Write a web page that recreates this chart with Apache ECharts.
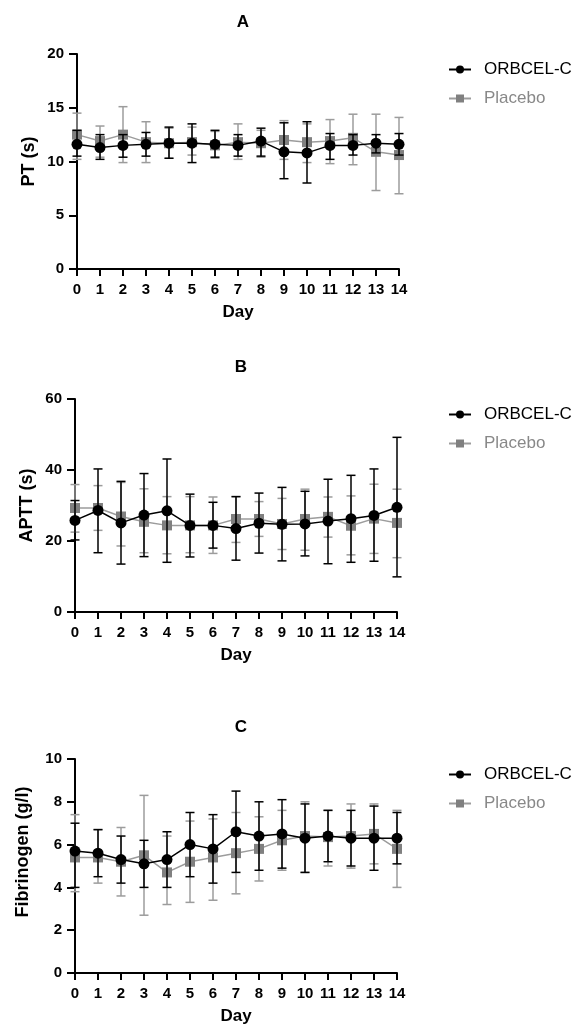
<!DOCTYPE html>
<html>
<head>
<meta charset="utf-8">
<script src="https://cdn.jsdelivr.net/npm/echarts@6/dist/echarts.min.js"></script>
<style>
  html, body { margin: 0; padding: 0; background: #fff; }
  #chart { width: 575px; height: 1032px; }
</style>
</head>
<body>
<div id="chart"></div>
<script>
// Study days
const days = [0, 1, 2, 3, 4, 5, 6, 7, 8, 9, 10, 11, 12, 13, 14];

// A: prothrombin time (s) — mean, lower and upper error limits
const ptOrb   = [11.6, 11.3, 11.5, 11.6, 11.7, 11.7, 11.6, 11.5, 11.9, 10.9, 10.8, 11.5, 11.5, 11.7, 11.6];
const ptOrbLo = [10.5, 10.2, 10.4, 10.5, 10.3, 9.9, 10.4, 10.5, 10.5, 8.4, 8.0, 10.2, 10.6, 10.8, 10.6];
const ptOrbHi = [12.9, 12.5, 12.5, 12.7, 13.2, 13.5, 12.9, 12.5, 13.1, 13.6, 13.7, 12.6, 12.5, 12.5, 12.6];
const ptPla   = [12.5, 11.9, 12.5, 11.8, 11.7, 11.8, 11.5, 11.8, 11.7, 12.0, 11.8, 11.9, 12.2, 10.9, 10.6];
const ptPlaLo = [10.2, 10.4, 9.9, 9.9, 10.3, 10.6, 10.3, 10.2, 10.4, 10.2, 9.9, 9.8, 9.7, 7.3, 7.0];
const ptPlaHi = [14.5, 13.3, 15.1, 13.7, 13.1, 13.2, 12.8, 13.5, 12.9, 13.8, 13.5, 13.9, 14.4, 14.4, 14.1];

// B: activated partial thromboplastin time (s)
const apOrb   = [25.8, 28.6, 25.1, 27.3, 28.5, 24.4, 24.4, 23.5, 25.0, 24.7, 24.8, 25.6, 26.3, 27.2, 29.5];
const apOrbLo = [20.3, 16.7, 13.5, 15.6, 14.0, 15.5, 18.0, 14.6, 16.6, 14.4, 15.8, 13.6, 14.0, 14.3, 9.9];
const apOrbHi = [31.4, 40.3, 36.8, 39.0, 43.1, 33.2, 30.9, 32.5, 33.5, 35.1, 34.0, 37.4, 38.5, 40.3, 49.2];
const apPla   = [29.3, 29.3, 26.9, 25.4, 24.4, 24.4, 24.4, 26.2, 26.2, 24.8, 26.2, 26.8, 24.3, 26.3, 25.1];
const apPlaLo = [22.5, 23.0, 18.6, 16.7, 16.4, 16.7, 16.5, 19.6, 21.3, 17.6, 17.4, 21.1, 16.1, 16.5, 15.3];
const apPlaHi = [35.9, 35.6, 36.5, 34.7, 32.5, 32.5, 32.4, 32.5, 31.1, 32.0, 34.6, 32.4, 32.7, 36.0, 34.6];

// C: fibrinogen (g/l)
const fbOrb   = [5.7, 5.6, 5.3, 5.1, 5.3, 6.0, 5.8, 6.6, 6.4, 6.5, 6.3, 6.4, 6.3, 6.3, 6.3];
const fbOrbLo = [4.0, 4.5, 4.2, 4.0, 4.0, 4.5, 4.2, 4.7, 4.8, 4.9, 4.7, 5.2, 5.0, 4.8, 5.1];
const fbOrbHi = [7.0, 6.7, 6.4, 6.2, 6.6, 7.5, 7.4, 8.5, 8.0, 8.1, 7.9, 7.6, 7.6, 7.8, 7.5];
const fbPla   = [5.4, 5.4, 5.2, 5.5, 4.7, 5.2, 5.4, 5.6, 5.8, 6.2, 6.4, 6.35, 6.4, 6.5, 5.8];
const fbPlaLo = [3.8, 4.2, 3.6, 2.7, 3.2, 3.3, 3.4, 3.7, 4.3, 4.8, 4.7, 5.0, 4.9, 5.1, 4.0];
const fbPlaHi = [7.4, 6.7, 6.8, 8.3, 6.4, 7.1, 7.2, 7.5, 7.3, 7.6, 8.0, 7.6, 7.9, 7.9, 7.6];

const panelTitles = ['A', 'B', 'C'];
const yNames = ['PT (s)', 'APTT (s)', 'Fibrinogen (g/l)'];
const yNameGaps = [39, 39, 43];
const yNamePads = [[0, 0, 0, 0], [0, 0, 0, 0], [0, 0, 0, 28]];
const yMax = [20, 60, 10];
const yStep = [5, 20, 2];

const FONT = 'Liberation Sans, Arial, Helvetica, sans-serif';
const ORB_COLOR = '#000000';
const PLA_COLOR = '#808080';
const PLA_BAR = '#9c9c9c';

const grids = [
  { left: 77, top: 54, width: 322, height: 215 },
  { left: 75, top: 399, width: 322, height: 213 },
  { left: 75, top: 759, width: 322, height: 214 }
];

const panels = [
  { orb: ptOrb, orbLo: ptOrbLo, orbHi: ptOrbHi, pla: ptPla, plaLo: ptPlaLo, plaHi: ptPlaHi },
  { orb: apOrb, orbLo: apOrbLo, orbHi: apOrbHi, pla: apPla, plaLo: apPlaLo, plaHi: apPlaHi },
  { orb: fbOrb, orbLo: fbOrbLo, orbHi: fbOrbHi, pla: fbPla, plaLo: fbPlaLo, plaHi: fbPlaHi }
];

// Vertical error bar with caps, drawn from [day, low, high]
function errorBars(color) {
  return function (params, api) {
    const x = api.value(0);
    const top = api.coord([x, api.value(2)]);
    const bot = api.coord([x, api.value(1)]);
    const w = 4.5;
    const st = { stroke: color, lineWidth: 1.5 };
    return {
      type: 'group',
      children: [
        { type: 'line', shape: { x1: top[0], y1: top[1], x2: bot[0], y2: bot[1] }, style: st },
        { type: 'line', shape: { x1: top[0] - w, y1: top[1], x2: top[0] + w, y2: top[1] }, style: st },
        { type: 'line', shape: { x1: bot[0] - w, y1: bot[1], x2: bot[0] + w, y2: bot[1] }, style: st }
      ]
    };
  };
}

const axisLabelStyle = { color: '#000', fontFamily: FONT, fontWeight: 'bold', fontSize: 15 };
const xAxes = [], yAxes = [], series = [], titles = [], legends = [];

panels.forEach(function (p, i) {
  const g = grids[i];
  titles.push({
    text: panelTitles[i],
    left: g.left + g.width / 2,
    top: g.top - 45,
    textAlign: 'center',
    textStyle: { fontFamily: FONT, fontWeight: 'bold', fontSize: 17, color: '#000' }
  });
  legends.push({
    orient: 'vertical',
    left: 443,
    top: g.top + 2,
    itemWidth: 22,
    itemHeight: 10,
    itemGap: 12,
    data: [
      { name: 'ORBCEL-C', textStyle: { color: '#000' } },
      { name: 'Placebo', textStyle: { color: '#888' } }
    ],
    textStyle: { fontFamily: FONT, fontSize: 17, padding: [0, 0, 0, 8] }
  });
  xAxes.push({
    gridIndex: i,
    type: 'value',
    min: 0,
    max: 14,
    interval: 1,
    name: 'Day',
    nameLocation: 'middle',
    nameGap: 35,
    nameMoveOverlap: false,
    nameTextStyle: { fontFamily: FONT, fontWeight: 'bold', fontSize: 17, color: '#000' },
    axisLine: { show: true, onZero: false, lineStyle: { color: '#000', width: 2 } },
    axisTick: { show: true, length: 7, lineStyle: { color: '#000', width: 2 } },
    axisLabel: Object.assign({ margin: 13 }, axisLabelStyle),
    splitLine: { show: false }
  });
  yAxes.push({
    gridIndex: i,
    type: 'value',
    min: 0,
    max: yMax[i],
    interval: yStep[i],
    name: yNames[i],
    nameLocation: 'middle',
    nameGap: yNameGaps[i],
    nameMoveOverlap: false,
    nameTextStyle: { fontFamily: FONT, fontWeight: 'bold', fontSize: 18, color: '#000', padding: yNamePads[i] },
    axisLine: { show: true, lineStyle: { color: '#000', width: 2 } },
    axisTick: { show: true, length: 8, lineStyle: { color: '#000', width: 2 } },
    axisLabel: Object.assign({ margin: 13 }, axisLabelStyle),
    splitLine: { show: false }
  });

  series.push({
    name: 'Placebo SD',
    type: 'custom',
    xAxisIndex: i, yAxisIndex: i,
    renderItem: errorBars(PLA_BAR),
    encode: { x: 0, y: [1, 2] },
    data: days.map(function (d, k) { return [d, p.plaLo[k], p.plaHi[k]]; }),
    clip: false,
    z: 1
  });
  series.push({
    name: 'Placebo',
    type: 'line',
    xAxisIndex: i, yAxisIndex: i,
    data: days.map(function (d, k) { return [d, p.pla[k]]; }),
    symbol: 'rect',
    symbolSize: 10,
    itemStyle: { color: PLA_COLOR },
    lineStyle: { color: PLA_BAR, width: 1.5 },
    z: 2
  });
  series.push({
    name: 'ORBCEL-C SD',
    type: 'custom',
    xAxisIndex: i, yAxisIndex: i,
    renderItem: errorBars(ORB_COLOR),
    encode: { x: 0, y: [1, 2] },
    data: days.map(function (d, k) { return [d, p.orbLo[k], p.orbHi[k]]; }),
    clip: false,
    z: 3
  });
  series.push({
    name: 'ORBCEL-C',
    type: 'line',
    xAxisIndex: i, yAxisIndex: i,
    data: days.map(function (d, k) { return [d, p.orb[k]]; }),
    symbol: 'circle',
    symbolSize: 11,
    itemStyle: { color: ORB_COLOR },
    lineStyle: { color: ORB_COLOR, width: 1.5 },
    z: 4
  });
});

const chart = echarts.init(document.getElementById('chart'), null, { renderer: 'canvas' });
chart.setOption({
  animation: false,
  backgroundColor: '#fff',
  title: titles,
  legend: legends,
  grid: grids,
  xAxis: xAxes,
  yAxis: yAxes,
  series: series
});
</script>
</body>
</html>
